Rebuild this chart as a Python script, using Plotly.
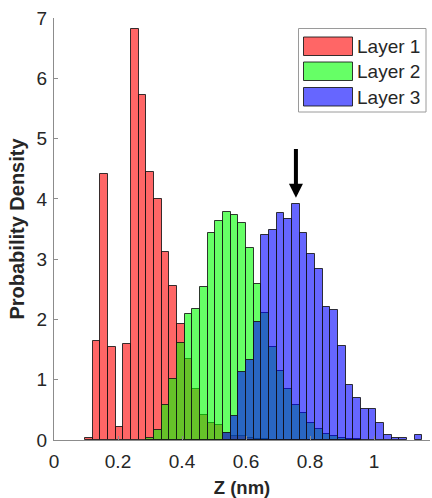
import plotly.graph_objects as go

# ---------------- data ----------------
first_edge = 0.0969      # left edge of first bin (nm)
bin_width = 0.02396      # histogram bin width (nm)

layer1 = [0.04, 1.64, 4.41, 1.55, 0.22, 1.59, 6.82, 5.72, 4.45, 3.99, 3.12, 2.56,
          1.93, 1.35, 0.84, 0.41, 0.28, 0.25, 0.12, 0.07, 0.06, 0.03, 0.02, 0.01,
          0, 0, 0, 0, 0, 0, 0, 0, 0, 0, 0, 0, 0, 0, 0, 0, 0, 0, 0, 0]
layer2 = [0, 0, 0, 0, 0, 0, 0, 0, 0.03, 0.17, 0.58, 1.01, 1.61, 2.09, 2.17, 2.54,
          3.44, 3.63, 3.79, 3.74, 3.60, 3.18, 2.58, 2.10, 1.55, 1.15, 0.84, 0.58,
          0.44, 0.29, 0.19, 0.10, 0.07, 0.04, 0.02, 0.01, 0, 0, 0, 0, 0, 0, 0, 0]
layer3 = [0, 0, 0, 0, 0, 0, 0, 0, 0, 0, 0, 0, 0, 0, 0, 0, 0, 0, 0.11, 0.40, 1.12,
          1.33, 1.96, 3.40, 3.48, 3.77, 3.67, 3.92, 3.44, 3.08, 2.84, 2.20, 2.15,
          1.56, 0.92, 0.69, 0.52, 0.52, 0.28, 0.08, 0.04, 0.04, 0, 0.08]

series_names = ["Layer 1", "Layer 2", "Layer 3"]
series_values = [layer1, layer2, layer3]
series_colors = ["rgba(255,0,0,0.6)", "rgba(0,255,0,0.6)", "rgba(0,0,255,0.6)"]

arrow_x = 0.756
arrow_tip_y = 4.02
arrow_tail_y = 4.85

x_ticks = [0, 0.2, 0.4, 0.6, 0.8, 1]
x_tick_text = ["0", "0.2", "0.4", "0.6", "0.8", "1"]
y_ticks = [0, 1, 2, 3, 4, 5, 6, 7]

# ---------------- figure ----------------
W, H = 432, 498
ML, MR, MT, MB = 54, 2, 18, 58
PW, PH = W - ML - MR, H - MT - MB
FONT = "Arial, Liberation Sans"

centers = [first_edge + (i + 0.5) * bin_width for i in range(len(layer1))]

fig = go.Figure()
for name, vals, col in zip(series_names, series_values, series_colors):
    fig.add_trace(go.Bar(
        x=centers,
        y=[v if v > 0 else None for v in vals],
        width=bin_width,
        name=name,
        marker=dict(color=col, line=dict(color="rgba(20,20,20,0.85)", width=1)),
        showlegend=False,
    ))

fig.add_annotation(
    x=arrow_x, y=arrow_tip_y, ax=arrow_x, ay=arrow_tail_y,
    xref="x", yref="y", axref="x", ayref="y",
    text="", showarrow=True, arrowhead=2, arrowsize=0.7, arrowwidth=4,
    arrowcolor="black",
)

# manual legend (pixel -> paper helpers)
def px(xp):
    return (xp - ML) / PW

def py(yp):
    return (H - MB - yp) / PH

fig.add_shape(type="rect", xref="paper", yref="paper",
              x0=px(298.5), x1=px(426), y0=py(112), y1=py(28.5),
              line=dict(color="#9a9a9a", width=1), fillcolor="white", layer="above")
row_tops = [37, 62, 87.5]
for name, col, top in zip(series_names, series_colors, row_tops):
    fig.add_shape(type="rect", xref="paper", yref="paper",
                  x0=px(303.5), x1=px(352.5), y0=py(top + 18.5), y1=py(top),
                  line=dict(color="rgba(20,20,20,0.85)", width=1), fillcolor=col,
                  layer="above")
    fig.add_annotation(xref="paper", yref="paper", x=px(354.5), y=py(top + 9.5),
                       text=name, showarrow=False, xanchor="left", yanchor="middle",
                       font=dict(family=FONT, size=19, color="#262626"))

axis_common = dict(
    showline=True, linecolor="#8c8c8c", linewidth=1,
    ticks="inside", ticklen=4, tickcolor="#8c8c8c",
    showgrid=False, zeroline=False,
    tickfont=dict(family=FONT, size=19, color="#262626"),
)

fig.update_layout(
    width=W, height=H,
    margin=dict(l=ML, r=MR, t=MT, b=MB),
    paper_bgcolor="white", plot_bgcolor="white",
    barmode="overlay", bargap=0,
    xaxis=dict(range=[0, 1.175], tickvals=x_ticks, ticktext=x_tick_text,
               ticklabelstandoff=4,
               title=dict(text="<b>Z (nm)</b>", standoff=11,
                          font=dict(family=FONT, size=18.5, color="#262626")),
               **axis_common),
    yaxis=dict(range=[0, 7], tickvals=y_ticks, ticklabelstandoff=2,
               title=dict(text="<b>Probability Density</b>", standoff=6,
                          font=dict(family=FONT, size=20, color="#262626")),
               **axis_common),
)

fig.write_html("out.html")
